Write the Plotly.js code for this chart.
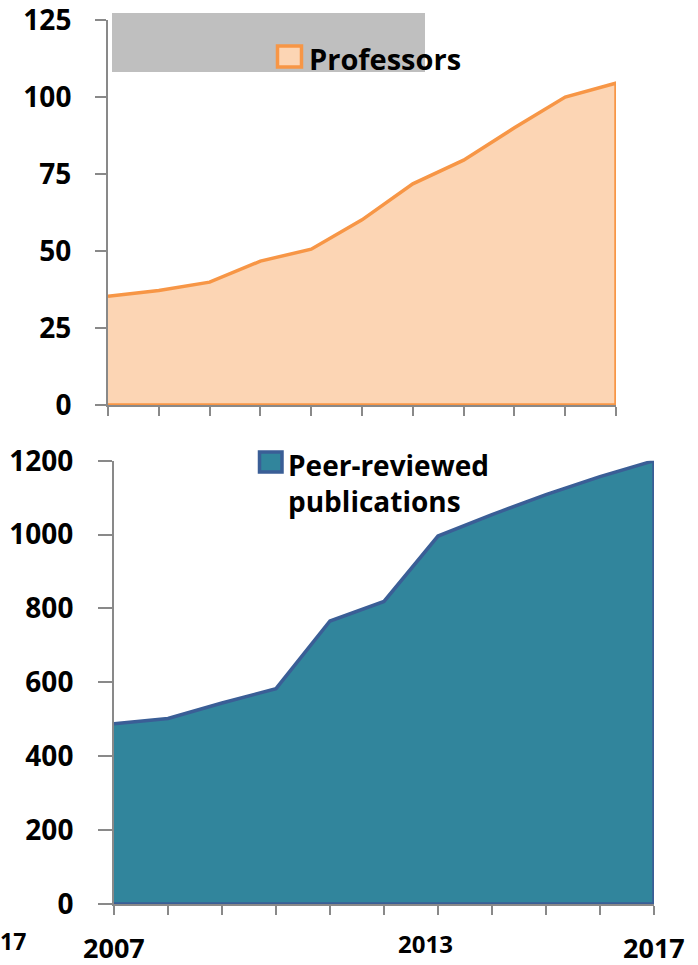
<!DOCTYPE html>
<html>
<head>
<meta charset="utf-8">
<script src="https://cdn.plot.ly/plotly-3.0.1.min.js"></script>
<style>html,body{margin:0;padding:0;background:#fff;}#chart{width:698px;height:965px;}</style>
</head>
<body>
<div id="chart"></div>
<script>
const years = [2007, 2008, 2009, 2010, 2011, 2012, 2013, 2014, 2015, 2016, 2017];
const professors = [35.3, 37.2, 39.9, 46.7, 50.6, 60.1, 71.8, 79.5, 90, 100, 104.5];
const publications = [488, 502, 544, 583, 766, 819, 996, 1054, 1108, 1157, 1200];
const profTicks = [0, 25, 50, 75, 100, 125];
const pubTicks = [0, 200, 400, 600, 800, 1000, 1200];
const xLabels = ['2007', '2013', '2017'];
const cutLabel = '17';
const profName = 'Professors';
const pubName = 'Peer-reviewed<br>publications';

function closed(xs, ys) {
  const n = xs.length;
  return { x: xs.concat([xs[n - 1], xs[0]]), y: ys.concat([0, 0]) };
}
const pc = closed(years, professors);
const uc = closed(years, publications);

const FONT = '"Open Sans", Lato, sans-serif';
const gray = '#898989';
const orange = '#f79646', peach = '#fcd5b4';
const navy = '#3a5e96', teal = '#31859c';

const traces = [
  {
    x: pc.x, y: pc.y, type: 'scatter', mode: 'lines', fill: 'toself',
    fillcolor: peach, line: { color: orange, width: 3.5 },
    name: profName, xaxis: 'x', yaxis: 'y', showlegend: false, hoverinfo: 'x+y'
  },
  {
    x: uc.x, y: uc.y, type: 'scatter', mode: 'lines', fill: 'toself',
    fillcolor: teal, line: { color: navy, width: 3.5 },
    name: pubName, xaxis: 'x2', yaxis: 'y2', showlegend: false, hoverinfo: 'x+y'
  }
];

const axisCommon = {
  showgrid: false, zeroline: false, showline: true, linecolor: gray, linewidth: 2,
  ticks: 'outside', tickcolor: gray, tickwidth: 2, fixedrange: true,
  ticklabeloverflow: 'allow'
};

function px(x) { return x / 698; }
function py(y) { return 1 - y / 965; }

const annotations = xLabels.map(function (t, i) {
  const mid = (i === 1);
  return {
    xref: 'x2', yref: 'paper', x: Number(t), y: mid ? py(943) : py(947),
    xanchor: 'center', yanchor: 'middle', xshift: mid ? -13 : 0,
    text: '<b>' + t + '</b>', showarrow: false,
    font: { family: FONT, size: mid ? 24 : 27, color: '#000' }
  };
});
annotations.push({
  xref: 'paper', yref: 'paper', x: px(28), y: py(941), xanchor: 'right', yanchor: 'middle',
  text: '<b>' + cutLabel + '</b>', showarrow: false,
  font: { family: FONT, size: 23, color: '#000' }
});
// legend texts
annotations.push({
  xref: 'paper', yref: 'paper', x: px(307), y: py(58), xanchor: 'left', yanchor: 'middle',
  text: '<b>' + profName + '</b>', showarrow: false, align: 'left',
  font: { family: FONT, size: 29, color: '#000' }
});
annotations.push({
  xref: 'paper', yref: 'paper', x: px(286), y: py(444), xanchor: 'left', yanchor: 'top',
  text: '<b>' + pubName + '</b>', showarrow: false, align: 'left',
  font: { family: FONT, size: 28, color: '#000' }
});

const layout = {
  width: 698, height: 965,
  margin: { l: 0, r: 0, t: 0, b: 0 },
  paper_bgcolor: '#fff', plot_bgcolor: 'rgba(0,0,0,0)',
  font: { family: FONT, color: '#000' },
  showlegend: false,
  xaxis: Object.assign({}, axisCommon, {
    domain: [px(108), px(616)], range: [2007, 2017], tickmode: 'array', tickvals: years,
    showticklabels: false, ticklen: 9, anchor: 'y'
  }),
  yaxis: Object.assign({}, axisCommon, {
    domain: [py(405), py(20)], range: [0, 125], tickmode: 'array', tickvals: profTicks,
    ticklen: 11, ticklabelstandoff: 18, tickfont: { family: FONT, size: 28, color: '#000', weight: 'bold' },
    anchor: 'x'
  }),
  xaxis2: Object.assign({}, axisCommon, {
    domain: [px(114), px(654)], range: [2007, 2017], tickmode: 'array', tickvals: years,
    showticklabels: false, ticklen: 9, anchor: 'y2'
  }),
  yaxis2: Object.assign({}, axisCommon, {
    domain: [py(904), py(460.7)], range: [0, 1200], tickmode: 'array', tickvals: pubTicks,
    ticklen: 14, ticklabelstandoff: 19, tickfont: { family: FONT, size: 28, color: '#000', weight: 'bold' },
    anchor: 'x2'
  }),
  shapes: [
    {
      type: 'rect', xref: 'paper', yref: 'paper', layer: 'below',
      x0: px(112), x1: px(425), y0: py(72), y1: py(13),
      fillcolor: '#bfbfbf', line: { width: 0 }
    },
    {
      type: 'rect', xref: 'paper', yref: 'paper', layer: 'above',
      x0: px(277.5), x1: px(301.5), y0: py(67), y1: py(46),
      fillcolor: peach, line: { color: orange, width: 3.5 }
    },
    {
      type: 'rect', xref: 'paper', yref: 'paper', layer: 'above',
      x0: px(259.5), x1: px(282), y0: py(472), y1: py(452),
      fillcolor: teal, line: { color: navy, width: 3.5 }
    }
  ],
  annotations: annotations
};

Plotly.newPlot('chart', traces, layout, { displayModeBar: false, staticPlot: true });
</script>
</body>
</html>
